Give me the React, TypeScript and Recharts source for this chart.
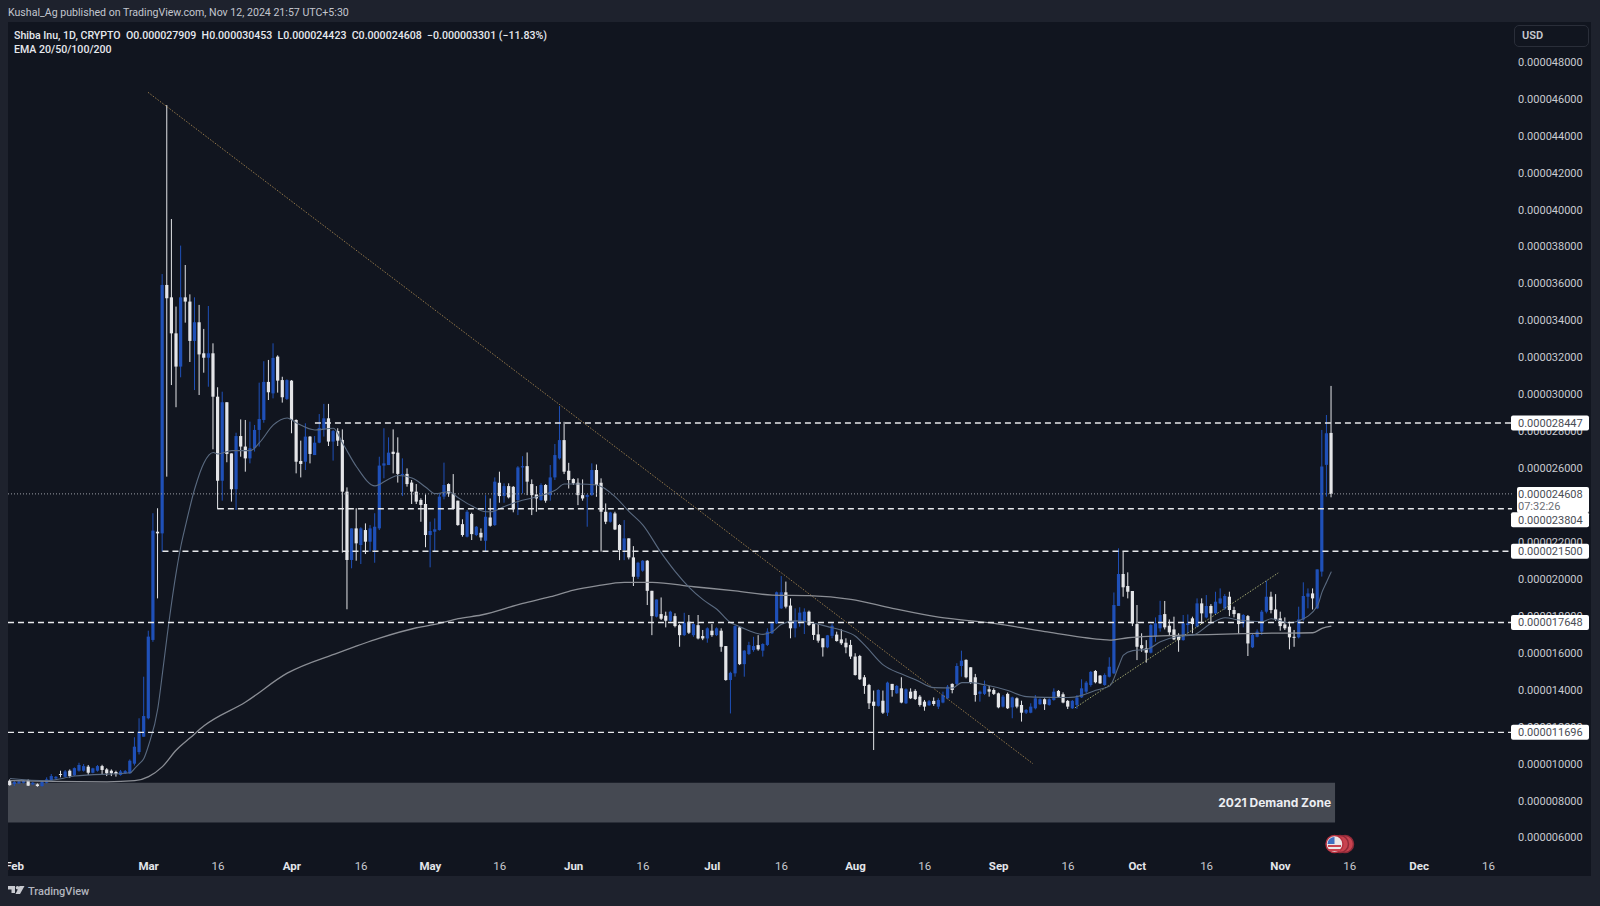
import React from "react";
import { ComposedChart, Bar, Line, XAxis, YAxis, ReferenceLine, ReferenceArea, ReferenceDot } from "recharts";

const opens = [
9.08,8.9,8.93,8.97,9.1,8.88,8.88,8.79,8.97,9.11,
9.2,9.44,9.29,9.62,9.37,9.62,9.62,9.84,9.51,9.62,
9.87,9.69,9.62,9.55,9.39,9.48,9.48,10.0,10.63,11.46,
12.46,16.7,22.56,22.47,35.92,35.25,33.3,31.5,35.25,35.02,
32.89,33.9,32.22,31.98,32.22,29.87,25.32,29.57,26.8,24.86,
27.74,27.17,26.53,27.08,28.07,28.61,30.67,30.05,32.04,30.77,
29.75,30.74,28.61,26.39,26.35,27.71,26.71,27.38,28.1,28.7,
27.44,28.01,27.53,24.73,21.03,22.74,21.84,22.65,22.02,21.57,
22.74,26.14,26.17,26.89,26.84,25.63,25.69,25.22,24.73,24.28,
24.06,22.38,22.56,22.65,24.46,25.14,24.63,24.24,22.97,22.29,
23.52,22.38,22.5,22.07,23.33,22.92,25.21,24.49,25.03,24.99,
24.27,26.04,26.11,25.14,24.58,24.27,25.09,24.54,25.5,26.53,
27.52,25.86,25.41,25.21,24.54,24.45,24.54,25.9,25.21,23.64,
23.1,23.55,22.92,21.57,22.2,21.17,20.12,20.45,20.99,19.36,
17.96,18.1,18.01,17.74,17.99,17.5,16.96,17.69,16.96,17.5,
16.91,16.78,17.2,16.96,17.2,16.37,14.53,14.89,17.38,15.39,
15.94,16.15,16.42,16.12,16.43,17.06,17.6,18.41,19.28,18.56,
17.33,17.69,17.69,18.23,17.56,17.0,16.79,16.3,16.92,16.99,
16.73,16.55,16.43,15.8,15.83,14.68,14.26,13.36,13.13,13.41,
12.76,14.32,13.81,14.08,13.27,13.9,13.94,13.63,13.36,13.16,
13.4,13.09,13.31,13.54,14.32,14.32,15.29,15.62,15.22,14.68,
13.78,13.78,14.03,13.99,13.81,13.09,13.78,13.05,13.54,13.18,
12.76,12.76,13.0,13.22,13.49,13.18,13.45,13.94,13.76,13.4,
13.0,13.18,13.59,13.9,14.26,15.02,14.77,14.26,14.71,14.89,
18.54,20.27,19.62,19.35,17.56,16.42,16.24,16.01,16.87,17.33,
18.1,17.47,17.27,16.91,16.69,17.51,17.87,17.42,18.68,17.92,
18.54,18.14,18.68,18.41,19.04,18.32,18.14,17.6,17.99,16.3,
16.87,17.15,18.23,19.04,18.35,17.87,17.54,17.42,16.87,16.84,
17.81,19.04,19.22,18.41,20.4,26.18,27.909];

const closes = [
8.84,9.01,9.04,9.08,8.81,8.97,8.79,9.02,9.15,9.33,
9.29,9.39,9.58,9.33,9.76,9.93,9.87,9.51,9.75,9.87,
9.66,9.48,9.48,9.44,9.58,9.6,10.16,10.92,11.73,12.58,
16.88,22.62,22.47,35.92,35.2,33.3,31.5,35.25,35.02,32.89,
33.9,32.16,31.98,32.22,29.87,25.32,29.57,26.77,24.86,27.74,
27.17,26.53,27.08,28.07,28.66,30.67,30.11,31.97,30.74,29.84,
30.77,28.61,26.35,26.23,27.71,26.77,27.38,28.18,28.7,27.44,
28.01,27.49,24.73,21.03,22.74,21.93,22.74,22.02,22.74,22.83,
26.14,26.26,26.84,26.77,25.69,25.69,25.14,24.73,24.19,24.01,
22.38,22.6,22.69,24.46,25.09,24.63,23.79,22.92,22.38,23.64,
22.43,22.83,22.25,23.37,22.88,25.27,24.49,25.03,24.42,23.77,
26.04,26.11,25.27,24.54,24.36,25.09,24.24,25.5,26.71,27.52,
25.81,25.36,25.18,24.54,24.36,24.54,25.9,25.09,23.64,23.1,
23.6,22.68,21.57,22.2,21.17,20.12,20.88,20.99,19.36,17.99,
18.89,17.85,17.74,18.23,17.45,16.96,17.63,17.09,17.56,16.78,
16.78,17.33,16.96,17.33,16.33,14.53,14.92,17.45,15.39,16.12,
16.42,16.37,16.19,16.48,17.15,17.6,19.28,19.28,18.5,17.33,
17.75,18.18,18.23,17.51,16.97,16.66,16.3,16.95,17.47,16.64,
16.52,16.3,15.8,14.8,14.57,14.21,13.27,13.13,13.99,12.76,
14.39,13.99,14.21,13.31,14.03,13.54,13.5,13.18,13.09,13.38,
13.23,13.45,13.72,14.17,13.99,15.29,15.58,14.68,14.39,13.72,
13.9,14.21,13.9,13.78,13.05,13.63,13.0,13.59,13.09,12.76,
12.91,13.09,13.54,13.49,13.22,13.49,13.9,13.63,13.31,13.09,
13.4,13.59,14.08,14.39,14.97,14.41,14.35,14.8,15.25,18.59,
20.27,19.55,19.31,17.6,16.33,16.24,16.01,17.51,17.6,18.05,
17.38,17.11,16.73,16.69,17.6,17.6,17.56,18.68,18.14,18.54,
18.14,18.77,18.95,19.08,18.32,18.1,17.56,18.05,16.51,16.97,
17.15,18.23,19.04,18.32,17.81,17.45,17.33,16.84,16.84,17.81,
19.08,19.22,18.95,20.52,26.09,27.89,24.608];

const highs = [
9.15,9.08,9.11,9.11,9.15,9.01,8.93,9.08,9.26,9.44,
9.33,9.62,9.66,9.69,9.8,10.05,9.98,9.93,9.78,9.93,
9.94,9.76,9.69,9.62,9.66,9.66,10.23,11.43,12.46,14.71,
17.2,23.56,23.83,36.51,45.66,39.49,34.75,38.05,37.0,35.41,
35.25,34.84,33.54,34.78,32.76,30.38,30.14,29.57,26.8,27.92,
28.64,28.61,28.52,28.34,30.63,31.79,31.86,32.76,32.11,30.95,
30.81,30.77,28.64,27.49,28.43,27.74,27.74,28.93,29.48,29.48,
28.07,28.16,28.1,24.96,22.74,23.83,22.8,23.01,22.92,23.56,
26.62,28.16,27.67,28.1,27.67,26.53,25.99,25.36,25.14,24.37,
24.58,23.1,23.28,24.64,26.3,25.18,25.68,24.24,23.23,23.73,
23.59,22.87,22.74,24.54,24.36,25.5,25.81,25.18,25.18,25.03,
26.11,26.65,26.85,25.39,25.03,25.18,25.14,26.17,27.31,29.36,
28.51,26.29,25.45,25.45,25.39,24.6,26.26,26.2,25.45,24.09,
23.64,23.64,22.97,23.19,22.2,21.78,20.93,21.02,21.02,19.36,
18.89,19.0,18.23,18.28,18.14,17.56,18.17,18.05,17.6,18.05,
17.24,17.38,17.56,17.38,17.33,16.37,14.98,17.5,17.41,16.15,
16.6,16.87,16.96,16.52,17.33,17.69,19.32,20.16,19.86,18.95,
18.41,18.47,18.41,18.29,17.6,17.56,16.79,16.97,17.6,17.15,
17.28,16.79,16.7,15.98,15.89,14.8,14.32,13.96,14.03,13.96,
14.44,14.32,14.26,14.68,14.08,14.08,14.03,13.72,13.45,13.45,
13.59,13.54,13.9,14.26,14.35,15.44,16.12,15.65,15.22,14.86,
13.96,14.5,14.21,14.08,13.85,13.72,13.85,13.63,13.59,13.41,
12.96,13.27,13.72,13.54,13.54,13.54,14.08,13.99,13.86,13.45,
13.45,13.72,14.57,14.48,15.02,15.07,14.8,14.89,15.76,19.27,
21.66,21.48,20.36,19.35,18.59,17.06,16.69,17.56,17.92,18.82,
18.81,17.81,17.96,17.06,18.05,18.08,17.96,18.95,18.95,19.13,
18.64,19.31,19.49,19.18,19.31,18.5,18.14,18.1,18.05,17.06,
17.27,18.32,19.91,19.31,19.18,18.23,17.92,17.69,17.24,18.5,
19.82,19.49,19.49,20.52,28.07,28.88,30.453];

const lows = [
8.81,8.79,8.9,8.93,8.79,8.84,8.75,8.75,8.93,9.08,
9.15,9.26,9.26,9.24,9.33,9.57,9.57,9.39,9.48,9.57,
9.42,9.33,9.33,9.3,9.35,9.44,9.45,9.9,10.5,11.46,
12.4,16.6,18.95,21.48,25.54,30.5,29.3,30.92,33.88,31.75,
30.23,29.96,31.17,30.41,27.02,23.77,24.24,26.32,24.19,23.74,
26.62,25.81,26.26,26.9,27.17,28.46,29.69,29.78,30.09,29.55,
29.69,27.89,25.72,25.5,25.9,26.26,26.71,27.35,27.71,27.2,
26.41,27.2,21.43,18.36,20.58,20.99,20.81,21.35,21.48,20.88,
22.65,25.45,26.17,25.72,25.22,24.49,25.0,24.06,24.06,23.1,
21.72,20.63,21.48,22.62,24.31,24.45,23.77,22.88,22.29,22.25,
22.11,22.32,22.07,21.48,22.83,22.87,24.13,24.13,24.36,23.61,
23.46,24.63,24.54,23.46,23.64,24.24,24.13,24.24,25.36,26.47,
25.68,24.9,25.09,24.0,24.24,22.83,24.51,24.45,21.48,22.97,
23.05,22.65,21.02,21.02,21.06,19.62,20.0,20.39,18.59,16.96,
17.92,17.78,17.38,17.69,17.38,16.33,16.91,17.02,16.87,16.73,
16.69,16.55,16.87,16.91,16.06,14.49,12.72,14.71,15.34,14.71,
15.88,16.06,16.12,15.8,16.37,17.02,17.56,18.38,18.41,16.79,
16.84,17.42,17.02,17.46,16.7,16.55,15.8,16.25,16.79,16.61,
16.43,15.98,15.67,14.77,14.53,13.78,12.96,10.74,13.09,12.69,
12.58,13.63,13.78,13.27,13.23,13.5,13.45,13.09,12.87,13.13,
13.13,12.96,13.27,13.49,13.81,14.26,14.71,14.62,14.32,13.36,
13.36,13.72,13.63,13.72,13.0,13.04,12.96,12.46,13.0,12.28,
12.69,12.73,12.94,13.18,12.91,13.14,13.41,13.58,13.27,12.96,
12.96,12.96,13.56,13.81,14.17,14.35,14.32,14.22,14.67,14.85,
18.54,19.04,18.95,17.45,15.61,16.06,15.47,15.97,16.6,17.15,
17.27,16.91,16.69,16.06,16.66,17.06,17.06,17.38,17.56,17.87,
17.6,18.1,18.64,18.32,17.99,17.92,17.02,17.38,15.83,16.26,
16.84,16.97,18.14,18.14,17.74,17.2,17.24,16.19,16.33,16.78,
17.74,18.41,18.35,18.37,20.13,24.46,24.423];

const ema20Days = [0,8,14,26,27,28,29,30,32,33,34,36,37,38,40,42,44,45,48,52,54,57,60,62,66,70,72,75,79,82,84,87,90,92,95,97,100,103,104,107,110,114,118,120,123,127,131,134,137,141,144,147,150,153,156,157,160,163,165,167,170,173,177,180,183,185,189,193,196,200,204,206,208,211,216,220,224,229,232,235,238,240,241,243,246,249,253,256,260,263,266,271,273,277,279,283,284,285,286];
const ema20Values = [9.2,9.08,9.33,9.51,9.75,10.0,10.3,11.0,13.0,14.9,16.9,20.4,21.8,22.9,24.9,26.3,26.85,26.77,26.95,26.95,27.38,28.34,28.72,28.45,28.07,28.16,27.35,26.08,25.04,25.42,25.6,25.47,24.97,24.62,24.72,24.4,23.95,23.64,23.64,23.92,24.2,24.45,24.8,25.14,25.14,25.09,24.45,23.65,22.92,21.4,20.4,19.55,18.88,18.36,17.63,17.52,17.2,17.0,17.15,17.55,17.73,17.66,17.42,17.22,16.9,16.42,15.35,14.85,14.55,14.12,14.1,14.39,14.39,14.27,13.96,13.63,13.59,13.58,13.7,13.98,14.2,15.3,15.88,16.12,16.19,16.6,16.9,16.96,17.6,17.9,17.78,17.69,17.85,17.63,17.74,18.55,19.3,19.85,20.4];

const ema200Days = [0,21,27,30,33,36,39,42,51,60,71,80,88,93,97,102,111,117,122,127,133,139,148,157,165,173,182,191,201,213,224,236,238,242,256,271,282,284,286];
const ema200Values = [9.08,9.02,9.08,9.3,9.84,10.74,11.4,12.05,13.34,14.9,16.0,16.8,17.36,17.6,17.85,18.05,18.68,19.04,19.4,19.63,19.82,19.82,19.58,19.36,19.13,19.1,18.9,18.41,17.93,17.6,17.15,16.73,16.69,16.82,16.97,17.06,17.09,17.33,17.45];

const priceTicks = [6,8,10,12,14,16,18,20,22,26,28,30,32,34,36,38,40,42,44,46,48];
const timeTickDays = [1,30,45,61,76,91,106,122,137,152,167,183,198,214,229,244,259,275,290,305,320];
const timeTickLabels = ["Feb","Mar","16","Apr","16","May","16","Jun","16","Jul","16","Aug","16","Sep","16","Oct","16","Nov","16","Dec","16"];

const levelValues = [28.447,23.804,21.5,17.648,11.696];
const levelStartDays = [66,45,33,-0.433,-0.433];
const lastPrice = 24.608;
const countdown = "07:32:26";
const zoneTop = 8.97;
const zoneBottom = 6.81;
const zoneEndDay = 286.8;
const zoneLabel = "2021 Demand Zone";
const xDomain = [-0.433, 325.1];
const yDomain = [4.894, 50.157];
const downTrend = [[29.87,46.35],[221.4,10.0]];
const upTrend = [[230.5,13.02],[274.5,20.33]];

const rows: any[] = opens.map((o, i) => ({
  i, open: o, close: closes[i], high: highs[i], low: lows[i], range: [lows[i], highs[i]],
}));
ema20Days.forEach((d, k) => { rows[d].ema20 = ema20Values[k]; });
ema200Days.forEach((d, k) => { rows[d].ema200 = ema200Values[k]; });

const BLUE = "#1f50b8";
const WHITE = "#e4e5e8";
const FONT = "Roboto, 'Noto Sans', sans-serif";
const INTER = "Inter, 'Noto Sans', sans-serif";
const fmt = (v: number) => (v * 1e-6).toFixed(9);

const Candle = (p: any) => {
  const { x, y, width, height, payload } = p;
  if (height == null || !payload) return null;
  const cx = x + width / 2;
  const span = payload.high - payload.low || 1;
  const unit = height / span;
  const top = y + (payload.high - Math.max(payload.open, payload.close)) * unit;
  const bot = y + (payload.high - Math.min(payload.open, payload.close)) * unit;
  const col = payload.close >= payload.open ? BLUE : WHITE;
  return (
    <g>
      <line x1={cx} x2={cx} y1={y} y2={y + height} stroke={col} strokeWidth={1} />
      <rect x={cx - 1.6} y={top} width={3.2} height={Math.max(bot - top, 1)} fill={col} />
    </g>
  );
};

const TimeTick = (p: any) => {
  const { x, y, index } = p;
  const label = timeTickLabels[index];
  const bold = label !== "16";
  return (
    <text x={x} y={y} dy={4} textAnchor="middle" fontFamily={FONT} fontSize={11.5}
      fontWeight={bold ? 700 : 400} fill={bold ? "#e3e5ea" : "#c8cad0"}>{label}</text>
  );
};

const PriceTag = ({ cx, cy, value, shift = 0 }: any) => (
  <g>
    <rect x={cx - 1} y={cy - 7.5 + shift} width={78} height={15} rx={2} fill="#ffffff" />
    <text x={cx + 6} y={cy + 4 + shift} fontFamily={FONT} fontSize={11} fill="#4a4d55">{fmt(value)}</text>
  </g>
);

const LastTag = ({ cx, cy }: any) => (
  <g>
    <rect x={cx + 5} y={cy - 7} width={72} height={26} rx={2} fill="#ffffff" />
    <text x={cx + 6} y={cy + 4} fontFamily={FONT} fontSize={11} fill="#4a4d55">{fmt(lastPrice)}</text>
    <text x={cx + 6} y={cy + 16} fontFamily={FONT} fontSize={11} fill="#6a6d75">{countdown}</text>
  </g>
);

const boxText: React.CSSProperties = { position: "absolute", fontFamily: FONT, whiteSpace: "pre" };

export default function App() {
  return (
    <div style={{ position: "absolute", left: 0, top: 0, width: 1600, height: 906, background: "#1e222d", overflow: "hidden" }}>
      <div style={{ position: "absolute", left: 8, top: 22, width: 1583, height: 854, background: "#11151f" }} />
      <div style={{ position: "absolute", left: 0, top: 0 }}>
        <ComposedChart width={1600} height={906} data={rows} margin={{ top: 22, right: 10, bottom: 30, left: 8 }}>
          <XAxis dataKey="i" type="number" domain={xDomain} allowDataOverflow ticks={timeTickDays} interval={0}
            height={18} axisLine={false} tickLine={false} tick={<TimeTick />} />
          <YAxis orientation="right" type="number" domain={yDomain} allowDataOverflow ticks={priceTicks} interval={0}
            width={78} axisLine={false} tickLine={false} tickMargin={0} tickFormatter={fmt}
            tick={{ fontFamily: FONT, fontSize: 11, fill: "#c8cad0", textAnchor: "start" }} />
          <ReferenceArea x1={xDomain[0]} x2={zoneEndDay} y1={zoneBottom} y2={zoneTop} fill="#454952" fillOpacity={1} stroke="none" ifOverflow="visible" />
          <ReferenceLine segment={[{ x: downTrend[0][0], y: downTrend[0][1] }, { x: downTrend[1][0], y: downTrend[1][1] }]}
            stroke="#94784a" strokeWidth={1} strokeDasharray="1.5 1.5" />
          <ReferenceLine segment={[{ x: upTrend[0][0], y: upTrend[0][1] }, { x: upTrend[1][0], y: upTrend[1][1] }]}
            stroke="#a5aa72" strokeWidth={1} strokeDasharray="1.5 1.5" />
          <ReferenceLine y={lastPrice} stroke="#9a9da5" strokeWidth={1} strokeDasharray="1 2" />
          <Bar dataKey="range" barSize={4} isAnimationActive={false} shape={<Candle />} />
          <Line dataKey="ema200" stroke="#8b8e95" strokeWidth={1.3} dot={false} connectNulls isAnimationActive={false} type="monotone" />
          <Line dataKey="ema20" stroke="#5a6a80" strokeWidth={1.1} dot={false} connectNulls isAnimationActive={false} type="monotone" />
          {levelValues.map((v, k) => (
            <ReferenceLine key={v} segment={[{ x: levelStartDays[k], y: v }, { x: xDomain[1], y: v }]}
              stroke="#e8e9ec" strokeWidth={1.4} strokeDasharray="6 4" />
          ))}
          <ReferenceDot x={zoneEndDay} y={(zoneTop + zoneBottom) / 2} r={0} ifOverflow="visible"
            shape={(p: any) => (
              <text x={p.cx - 4} y={p.cy + 4} textAnchor="end" fontFamily={INTER} fontSize={12} fontWeight={700} fill="#eceef2">{zoneLabel}</text>
            )} />
          <ReferenceDot x={xDomain[1]} y={lastPrice} r={0} ifOverflow="visible" zIndex={5000} shape={(p: any) => <LastTag cx={p.cx} cy={p.cy} />} />
          {levelValues.map((v) => (
            <ReferenceDot key={"t" + v} x={xDomain[1]} y={v} r={0} ifOverflow="visible" zIndex={5000}
              shape={(p: any) => <PriceTag cx={p.cx} cy={p.cy} value={v} shift={v === 23.804 ? 11 : 0} />} />
          ))}
        </ComposedChart>
      </div>
      <div style={{ position: "absolute", left: 0, top: 0, width: 8, height: 906, background: "#1e222d" }} />
      <div style={{ ...boxText, left: 8, top: 6, fontSize: 10.6, color: "#c3c6cf" }}>Kushal_Ag published on TradingView.com, Nov 12, 2024 21:57 UTC+5:30</div>
      <div style={{ ...boxText, left: 14, top: 29, fontSize: 10.6, fontWeight: 500, color: "#e6e8ee" }}>
        {"Shiba Inu, 1D, CRYPTO  O0.000027909  H0.000030453  L0.000024423  C0.000024608  \u22120.000003301 (\u221211.83%)"}
      </div>
      <div style={{ ...boxText, left: 14, top: 43, fontSize: 10.6, fontWeight: 500, color: "#e6e8ee" }}>EMA 20/50/100/200</div>
      <div style={{ position: "absolute", left: 1514, top: 25, width: 75, height: 22, boxSizing: "border-box", border: "1px solid #2a2e39", borderRadius: 5 }} />
      <div style={{ ...boxText, left: 1522, top: 29, fontSize: 11, fontWeight: 600, color: "#c8cad0" }}>USD</div>
      <svg style={{ position: "absolute", left: 1325, top: 832 }} width={32} height={24}>
        <circle cx={20} cy={12} r={8.5} fill="#c8434f" stroke="#8f2a38" strokeWidth={1.5} />
        <circle cx={15} cy={12} r={8.5} fill="#c8434f" stroke="#8f2a38" strokeWidth={1.5} />
        <circle cx={9.5} cy={12} r={8.5} fill="#ece7e7" stroke="#b5303f" strokeWidth={1.5} />
        <rect x={3} y={13} width={13} height={2} fill="#c8434f" />
        <rect x={4} y={17} width={11} height={2} fill="#c8434f" />
        <path d="M2.5 12 A7 7 0 0 1 9.5 5 L9.5 12 Z" fill="#3f6fc0" />
      </svg>
      <svg style={{ position: "absolute", left: 8, top: 886 }} width={18} height={11}>
        <path d="M0 0H7V7H3.5V3.5H0Z" fill="#c8cad0" />
        <circle cx={9.5} cy={1.8} r={1.8} fill="#c8cad0" />
        <path d="M11.5 0H16.5L12 8H7.5Z" fill="#c8cad0" />
      </svg>
      <div style={{ ...boxText, left: 28, top: 885, fontSize: 11, fontWeight: 500, color: "#b2b5be" }}>TradingView</div>
    </div>
  );
}
